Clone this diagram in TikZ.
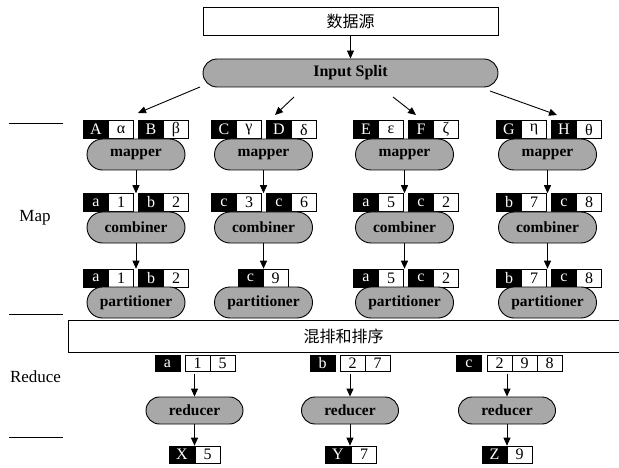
\documentclass[tikz,border=0pt]{standalone}
\usepackage{fontspec}
\setmainfont{Liberation Serif}
\newfontfamily\cjk{Noto Sans CJK SC}
\usetikzlibrary{shapes.misc,arrows.meta}
\definecolor{pillgray}{RGB}{168,168,168}
\tikzset{
  keycell/.style={rectangle, draw=black, fill=black, text=white, minimum width=25pt, minimum height=18pt, inner sep=0pt, line width=0.6pt, font=\fontsize{16}{16}\selectfont},
  valcell/.style={rectangle, draw=black, fill=white, text=black, minimum width=25pt, minimum height=18pt, inner sep=0pt, line width=0.8pt, font=\fontsize{16}{16}\selectfont},
  pill/.style={rounded rectangle, draw=black, fill=pillgray, line width=0.9pt, minimum width=98pt, minimum height=31pt, inner sep=0pt, font=\bfseries\fontsize{15.5}{15.5}\selectfont},
  redpill/.style={pill, minimum width=97pt, minimum height=27pt},
  plainbox/.style={rectangle, draw=black, line width=0.8pt, inner sep=0pt},
  arr/.style={-{Triangle[length=8pt,width=7pt]}, line width=0.9pt},
  sideline/.style={line width=0.8pt},
  sidelabel/.style={font=\fontsize{17}{17}\selectfont, inner sep=0pt},
}
\newcommand{\kvp}[5]{%
  \node[keycell] (#1k) at (#2+12.5,#3) {#4};
  \node[valcell] (#1v) at (#2+37.5,#3) {#5};
}
\begin{document}
\begin{tikzpicture}[x=1pt,y=-1pt]
\useasboundingbox (0,0) rectangle (619,468);
\clip (0,0) rectangle (619,468);
% source
\node[plainbox, minimum width=295pt, minimum height=28pt, font=\cjk\fontsize{16}{16}\selectfont] (src) at (350.5,21) {数据源};
\node[pill, minimum width=295pt, minimum height=28pt, font=\bfseries\fontsize{16}{16}\selectfont] (split) at (350.5,73) {Input Split};
\draw[arr] (src.south) -- (split.north);
% fan arrows
\coordinate (f1s) at (200,87);  \coordinate (f1e) at (138,113);
\coordinate (f2s) at (294,97);  \coordinate (f2e) at (275,115);
\coordinate (f3s) at (393,97);  \coordinate (f3e) at (416,115);
\coordinate (f4s) at (490,91);  \coordinate (f4e) at (557,115);
\draw[arr] (f1s) -- (f1e);
\draw[arr] (f2s) -- (f2e);
\draw[arr] (f3s) -- (f3e);
\draw[arr] (f4s) -- (f4e);
% input rows
\kvp{i1a}{83.5}{129.5}{A}{α}  \kvp{i1b}{138.5}{129.5}{B}{β}
\kvp{i2a}{211.5}{129.5}{C}{γ} \kvp{i2b}{266.5}{129.5}{D}{δ}
\kvp{i3a}{353.5}{129.5}{E}{ε} \kvp{i3b}{408.5}{129.5}{F}{ζ}
\kvp{i4a}{496.5}{129.5}{G}{η} \kvp{i4b}{551.5}{129.5}{H}{θ}
% mappers
\node[pill] (m1) at (136,154.5) {mapper};
\node[pill] (m2) at (263.5,154.5) {mapper};
\node[pill] (m3) at (404.5,154.5) {mapper};
\node[pill] (m4) at (547.5,154.5) {mapper};
% combiner inputs
\kvp{c1a}{83.5}{202.5}{a}{1}  \kvp{c1b}{138.5}{202.5}{b}{2}
\kvp{c2a}{211.5}{202.5}{c}{3} \kvp{c2b}{266.5}{202.5}{c}{6}
\kvp{c3a}{353.5}{202.5}{a}{5} \kvp{c3b}{408.5}{202.5}{c}{2}
\kvp{c4a}{496.5}{202.5}{b}{7} \kvp{c4b}{551.5}{202.5}{c}{8}
\foreach \i in {1,2,3,4}{\draw[arr] (m\i.south) -- (m\i.south |- c1ak.north);}
% combiners
\node[pill] (k1) at (136,227.5) {combiner};
\node[pill] (k2) at (263.5,227.5) {combiner};
\node[pill] (k3) at (404.5,227.5) {combiner};
\node[pill] (k4) at (547.5,227.5) {combiner};
% partitioner inputs
\kvp{p1a}{83.5}{278}{a}{1}  \kvp{p1b}{138.5}{278}{b}{2}
\kvp{p2a}{238}{278}{c}{9}
\kvp{p3a}{353.5}{278}{a}{5} \kvp{p3b}{408.5}{278}{c}{2}
\kvp{p4a}{496.5}{278}{b}{7} \kvp{p4b}{551.5}{278}{c}{8}
\foreach \i in {1,2,3,4}{\draw[arr] (k\i.south) -- (k\i.south |- p1ak.north);}
% partitioners
\node[pill] (q1) at (136,302.5) {partitioner};
\node[pill] (q2) at (263.5,302.5) {partitioner};
\node[pill] (q3) at (404.5,302.5) {partitioner};
\node[pill] (q4) at (547.5,302.5) {partitioner};
% shuffle
\node[plainbox, anchor=north west, minimum width=580pt, minimum height=32pt] (shuf) at (68,320) {};
\node[font=\cjk\fontsize{16}{16}\selectfont, inner sep=0pt] (shuft) at (343.5,336) {混排和排序};
% reduce inputs
\node[keycell, minimum height=16pt] (ra) at (167.5,363.5) {a};
\node[valcell, minimum height=16pt] (ra1) at (197.5,363.5) {1};
\node[valcell, minimum height=16pt] (ra2) at (222.5,363.5) {5};
\node[keycell, minimum height=16pt] (rb) at (322.5,363.5) {b};
\node[valcell, minimum height=16pt] (rb1) at (352.5,363.5) {2};
\node[valcell, minimum height=16pt] (rb2) at (377.5,363.5) {7};
\node[keycell, minimum height=16pt] (rc) at (469,363.5) {c};
\node[valcell, minimum height=16pt] (rc1) at (499.5,363.5) {2};
\node[valcell, minimum height=16pt] (rc2) at (524.5,363.5) {9};
\node[valcell, minimum height=16pt] (rc3) at (549.5,363.5) {8};
% reducers
\node[redpill] (r1) at (194.5,410.5) {reducer};
\node[redpill] (r2) at (350,410.5) {reducer};
\node[redpill] (r3) at (507,410.5) {reducer};
\draw[arr] (r1.north |- ra1.south) ++(0,2) -- (r1.north);
\draw[arr] (r2.north |- rb1.south) ++(0,2) -- (r2.north);
\draw[arr] (r3.north |- rc1.south) ++(0,2) -- (r3.north);
% outputs
\node[keycell, minimum height=17pt] (x1) at (182,454.5) {X};
\node[valcell, minimum height=17pt] (x2) at (207.5,454.5) {5};
\node[keycell, minimum height=17pt] (y1) at (338,454.5) {Y};
\node[valcell, minimum height=17pt] (y2) at (364,454.5) {7};
\node[keycell, minimum height=17pt] (z1) at (494.5,454.5) {Z};
\node[valcell, minimum height=17pt] (z2) at (519.5,454.5) {9};
\draw[arr] (r1.south) -- (r1.south |- x1.north);
\draw[arr] (r2.south) -- (r2.south |- y1.north);
\draw[arr] (r3.south) -- (r3.south |- z1.north);
% side labels
\coordinate (l1a) at (9,123);  \coordinate (l1b) at (63,123);
\coordinate (l2a) at (9,314);  \coordinate (l2b) at (63,314);
\coordinate (l3a) at (9,437);  \coordinate (l3b) at (63,437);
\draw[sideline] (l1a) -- (l1b);
\draw[sideline] (l2a) -- (l2b);
\draw[sideline] (l3a) -- (l3b);
\node[sidelabel] (mapl) at (35,218) {Map};
\node[sidelabel] (redl) at (35.5,377) {Reduce};
\end{tikzpicture}
\end{document}
